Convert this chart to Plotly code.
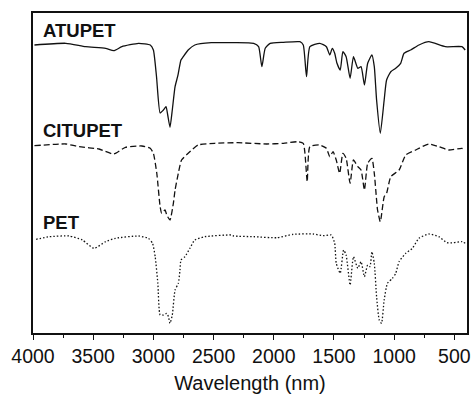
import plotly.graph_objects as go

# Wavenumber axis (cm^-1) and stacked spectra (arbitrary intensity, offset per sample)
atupet_x = [3988, 3727, 3562, 3397, 3329, 3262, 3123, 3026, 3000, 2974, 2944, 2917, 2895, 2881,
            2862, 2843, 2820, 2799, 2793, 2771, 2752, 2711, 2656, 2519, 2332, 2167, 2126, 2099,
            2071, 2030, 1920, 1783, 1755, 1728, 1700, 1618, 1563, 1535, 1514, 1494, 1475, 1448,
            1426, 1399, 1366, 1338, 1302, 1275, 1247, 1220, 1185, 1165, 1146, 1115, 1083, 1063,
            1028, 987, 946, 918, 863, 794, 712, 575, 437, 410]
atupet_y = [288, 289.7, 286.3, 284.7, 282.3, 286.3, 289.7, 288, 283, 256.3, 220, 223, 226.3, 218,
            205.7, 223, 246.3, 256.3, 259.7, 273, 276.3, 283, 288, 290.3, 290.3, 289.7, 286.3, 266.3,
            284.7, 289.7, 290.7, 291.3, 288, 256.3, 286.3, 289.7, 286.3, 278, 284.7, 279.7, 269.7, 263,
            281.3, 276.3, 254.7, 276.3, 264.7, 266.3, 248, 269.7, 278, 266.3, 233, 199.7, 233, 253,
            261.3, 264.7, 269.7, 279.7, 283, 288, 291.3, 286.3, 286.3, 283]

citupet_x = [3988, 3727, 3617, 3452, 3329, 3232, 3096, 3026, 3000, 2972, 2944, 2931, 2903, 2889,
             2862, 2834, 2820, 2793, 2766, 2711, 2629, 2491, 2299, 2058, 1920, 1796, 1755, 1741,
             1722, 1700, 1618, 1563, 1535, 1508, 1481, 1453, 1426, 1399, 1366, 1338, 1302, 1275,
             1247, 1220, 1185, 1165, 1146, 1138, 1115, 1083, 1063, 1028, 959, 904, 822, 712, 629,
             547, 437, 410]
citupet_y = [187.3, 189, 186.3, 184, 179, 185.7, 187, 184.7, 179.7, 160, 126.3, 119.7, 123, 118,
             113, 129.7, 143, 159.7, 173, 179.7, 188, 189.7, 190.3, 189, 189.7, 191.3, 189.7, 179.7,
             151.3, 186.3, 188, 184.7, 176.3, 181.3, 173, 159.7, 179.7, 174.7, 149.7, 173, 166.3, 163,
             143, 169.7, 174.7, 159.7, 133, 123, 111.3, 136.3, 139.7, 156.3, 163, 178, 183, 189, 186.3,
             183, 184.7, 183]

pet_x = [3974, 3864, 3699, 3590, 3493, 3397, 3315, 3123, 3041, 3007, 2985, 2963, 2944, 2917, 2889,
         2875, 2862, 2843, 2820, 2793, 2779, 2771, 2738, 2697, 2656, 2573, 2354, 2332, 2167, 1975,
         1838, 1673, 1591, 1522, 1494, 1481, 1448, 1420, 1399, 1366, 1338, 1302, 1275, 1247, 1220,
         1201, 1185, 1165, 1146, 1124, 1105, 1083, 1056, 1014, 987, 959, 904, 849, 794, 712, 629,
         561, 506, 437, 410]
pet_y = [93.7, 96.3, 97, 93, 84.7, 91.3, 94.7, 97, 94.7, 89.7, 76.3, 49.7, 18, 18, 19.7,
         16.3, 9.7, 18, 43, 49.7, 63, 73, 76.3, 84.7, 93, 96.3, 98, 97, 96.3, 95.3,
         98.7, 99, 97.3, 98, 89.7, 69.7, 59.7, 83, 78, 48, 76.3, 64.7, 71.3, 56.3, 68,
         66.3, 81.3, 69.7, 36.3, 13, 9.7, 33, 49.7, 54.7, 59.7, 71.3, 79.7, 84.7, 94.7, 99, 96.3,
         90.3, 90.3, 91.3, 89.7]

sample_names = ["ATUPET", "CITUPET", "PET"]
label_levels = [303, 203, 110.5]
x_ticks = [4000, 3500, 3000, 2500, 2000, 1500, 1000, 500]

fig = go.Figure()
series = [(atupet_x, atupet_y, "solid"),
          (citupet_x, citupet_y, "6px,3px"),
          (pet_x, pet_y, "1.5px,2px")]
for (xs, ys, dash), name in zip(series, sample_names):
    fig.add_trace(go.Scatter(
        x=xs, y=ys, mode="lines", name=name,
        line=dict(color="#111111", width=1.3, dash=dash, shape="spline", smoothing=0.5),
        showlegend=False,
    ))

for name, lvl in zip(sample_names, label_levels):
    fig.add_annotation(
        x=3935, y=lvl, xref="x", yref="y", text=f"<b>{name}</b>",
        showarrow=False, xanchor="left", yanchor="middle",
        font=dict(family="Liberation Sans, Arial, sans-serif", size=18.5, color="#111111"),
    )

fig.update_layout(
    width=476, height=397,
    margin=dict(l=33, r=5, t=13, b=64),
    paper_bgcolor="white", plot_bgcolor="white",
    font=dict(family="Liberation Sans, Arial, sans-serif", color="#111111"),
)
fig.update_xaxes(
    range=[4000, 395],
    tickvals=x_ticks, ticktext=[str(v) for v in x_ticks],
    ticks="outside", ticklen=5, tickwidth=1.3, tickcolor="#111111",
    minor=dict(dtick=250, tick0=0, ticks="outside", ticklen=3, tickwidth=1.3, tickcolor="#111111"),
    showline=True, linecolor="#111111", linewidth=1.5, mirror=True,
    showgrid=False, zeroline=False,
    tickfont=dict(size=19.5),
    title=dict(text="Wavelength (nm)", font=dict(size=20), standoff=10),
)
fig.update_yaxes(
    range=[0, 320],
    showticklabels=False, ticks="",
    showline=True, linecolor="#111111", linewidth=1.5, mirror=True,
    showgrid=False, zeroline=False,
)

fig.write_html("out.html")
